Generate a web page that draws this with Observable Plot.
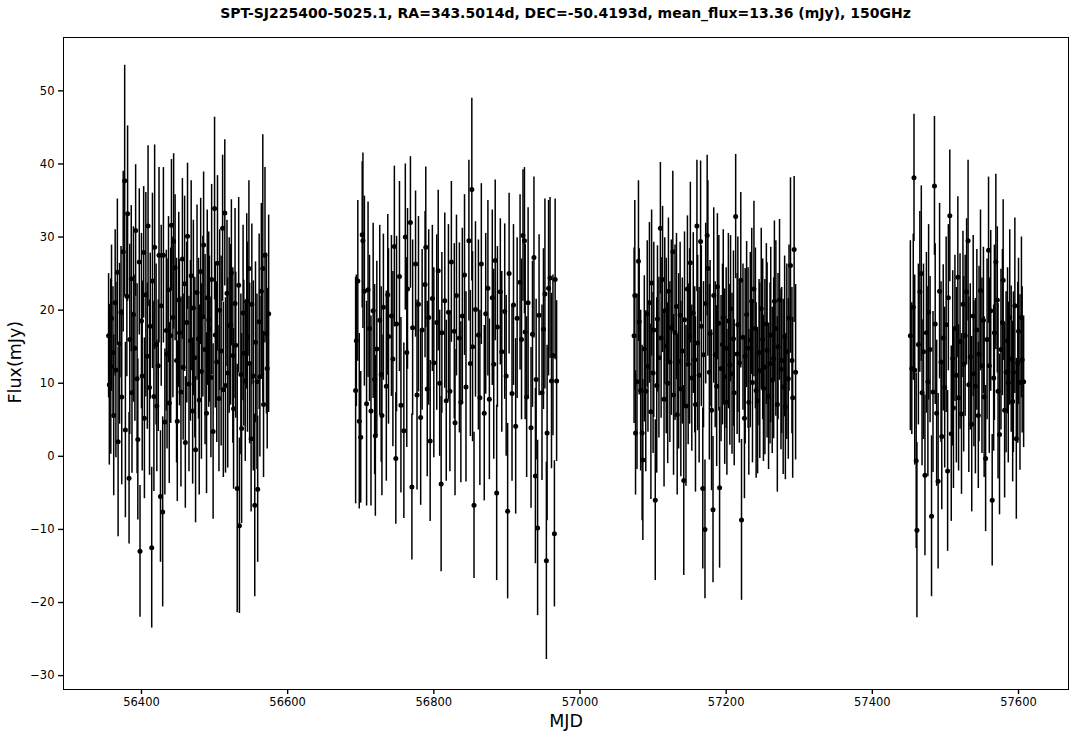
<!DOCTYPE html>
<html><head><meta charset="utf-8">
<script src="https://cdn.jsdelivr.net/npm/d3@7"></script>
<script src="https://cdn.jsdelivr.net/npm/@observablehq/plot@0.6"></script>
<style>
body{margin:0;background:#fff;font-family:"DejaVu Sans",sans-serif;}
#title{height:30px;line-height:27px;margin-left:63px;width:1005px;text-align:center;font-weight:bold;font-size:14px;color:#000;}
</style></head><body>
<div id="title"></div>
<div id="chart"></div>
<script>
const titleText = "SPT-SJ225400-5025.1, RA=343.5014d, DEC=-50.4193d, mean_flux=13.36 (mJy), 150GHz";
const xLabel = "MJD";
const yLabel = "Flux(mJy)";
const xTicks = [56400, 56600, 56800, 57000, 57200, 57400, 57600];
const yTicks = [-30, -20, -10, 0, 10, 20, 30, 40, 50];

// [MJD, flux (mJy), 1-sigma error (mJy)]
const season1 = [
[56355,16.5,8.5],[56356,9.8,11],[56358,12.3,12],[56359,18.9,10],[56361,14.2,9],[56362,5.6,11],[56364,21.0,10],[56365,11.8,12],
[56367,25.2,10],[56368,2.0,13],[56370,15.4,11],[56372,19.7,9],[56373,8.1,12],[56375,28.0,11],[56377,37.7,15.8],[56378,3.6,12],
[56380,21.9,11],[56381,33.2,12],[56383,-3.0,9],[56384,16.0,13],[56386,24.3,10],[56387,8.7,11],[56389,19.4,12],[56391,14.8,10],
[56392,30.9,9],[56394,10.6,13],[56395,2.3,11],[56397,26.6,10],[56398,-13.0,9],[56400,18.5,12],[56401,11.0,13],[56403,27.9,9],
[56404,5.2,11],[56406,22.1,14],[56408,13.7,10],[56409,31.5,11],[56411,9.4,12],[56412,17.8,10],[56414,-12.5,11],[56415,24.0,12],
[56417,8.2,13],[56418,28.6,14],[56420,15.3,11],[56421,6.9,9],[56423,12.4,9],[56424,27.5,12],[56426,-5.5,9],[56427,20.6,11],
[56429,-7.6,13],[56430,27.5,12],[56432,4.7,10],[56434,17.2,11],[56435,14.0,13],[56437,22.8,10],[56438,7.3,11],[56440,16.5,12],
[56441,31.6,9],[56443,19.0,11],[56444,29.4,12],[56446,25.8,10],[56448,13.1,14],[56449,4.8,11],[56451,21.4,12],[56452,16.9,10],
[56454,8.8,13],[56456,27.0,11],[56457,12.2,10],[56459,23.6,12],[56460,1.9,9],[56462,18.3,11],[56463,30.1,10],[56465,9.9,12],
[56467,15.8,11],[56468,24.7,13],[56470,6.2,10],[56471,20.3,12],[56473,13.5,11],[56474,0.9,10],[56476,22.4,12],[56478,16.1,11],
[56479,7.7,13],[56481,25.3,10],[56482,11.6,12],[56484,19.1,11],[56485,28.9,10],[56487,14.6,13],[56489,5.9,11],[56490,21.7,12],
[56492,18.7,12],[56493,17.4,10],[56495,10.8,11],[56496,24.2,13],[56498,3.4,12],[56500,33.9,12.5],[56501,16.6,10],[56503,12.9,11],
[56504,26.4,12],[56506,7.9,10],[56507,20.0,11],[56509,14.4,13],[56511,31.2,10],[56512,9.1,12],[56514,33.3,10],[56515,9.7,12],
[56517,22.3,10],[56518,11.4,13],[56520,17.9,12],[56522,18.0,11],[56523,25.1,10],[56525,13.8,12],[56526,6.5,11],[56528,20.9,13],
[56529,15.2,10],[56531,-4.4,17],[56533,23.4,12],[56534,-9.5,12],[56536,11.2,11],[56537,3.8,13],[56539,19.6,12],[56540,14.1,10],
[56542,10.3,11],[56544,21.2,12],[56545,16.3,13],[56547,25.7,12],[56548,12.7,11],[56550,2.4,10],[56551,20.8,11],[56553,11.0,13],
[56555,-6.7,12.5],[56556,15.6,11],[56558,10.2,12],[56559,-4.5,10],[56561,18.4,12],[56562,10.9,11],[56564,22.6,12],[56566,25.7,18.3],
[56567,7.1,10],[56569,27.5,12],[56571,16.8,11],[56572,12.0,11],[56574,19.5,13.5]
];
const season2 = [
[56693,9.0,15.5],[56694,15.8,9],[56696,24.0,11],[56698,4.8,12],[56700,2.6,9],[56702,30.3,10],[56703,29.5,12],[56705,22.6,13],
[56708,7.2,14],[56710,22.8,12],[56712,17.5,10],[56714,6.2,13],[56717,19.9,12],[56719,10.5,13],
[56720,2.8,11],[56722,14.7,12],[56726,18.6,13],[56728,11.2,12],[56729,5.6,11],[56731,20.4,10],
[56735,9.6,13],[56737,22.1,11],[56738,16.4,12],[56742,19.2,11],[56744,13.3,12],[56746,28.7,11],[56748,-0.3,9],
[56749,18.1,12],[56753,24.6,13],[56755,7.0,12],[56759,3.5,12],[56761,30.0,10],[56763,14.2,13],
[56764,22.9,11],[56768,32.0,9],[56770,-4.2,10],[56771,17.6,12],[56775,26.3,10],[56777,8.4,13],
[56779,20.8,12],[56782,5.3,12],[56784,17.3,11],[56788,23.5,10],[56789,28.6,11],[56791,9.2,12],
[56793,19.0,12],[56795,2.1,11],[56798,21.6,10],[56800,12.8,13],[56804,18.3,12],[56806,25.4,11],
[56808,10.0,10],[56810,-3.8,12],[56811,16.9,11],[56815,21.3,12],[56817,7.6,11],[56820,19.7,12],
[56822,8.9,11],[56824,26.6,11],[56828,17.1,12],[56829,4.6,10],[56831,22.0,11],[56835,16.2,13],
[56837,7.4,11],[56839,19.2,12],[56842,24.8,11],[56844,9.5,13],[56848,29.5,11],[56850,12.7,10],
[56852,36.5,12.5],[56853,15.0,13],[56855,-6.7,10],[56857,20.1,12],[56861,16.6,13],[56863,8.0,12],[56865,26.3,11],
[56869,5.9,12],[56871,19.5,11],[56874,23.0,12],[56876,7.8,11],[56880,21.7,12],
[56882,12.6,13],[56884,26.8,11],[56886,-5.0,12],[56887,17.7,11],[56891,22.5,10],[56893,14.3,11],
[56897,19.8,12],[56899,11.0,11],[56901,-7.5,12],[56903,25.0,11],[56907,8.6,12],[56909,20.7,11],
[56912,4.1,12],[56914,18.9,11],[56918,23.8,12],[56920,16.0,11],[56922,30.2,9],[56924,29.5,10],[56925,17.0,12],
[56927,8.1,11],[56929,21.0,13],[56933,3.9,11],[56935,16.7,10],[56937,27.2,11],[56939,-2.7,12],[56940,10.5,11],
[56942,-9.8,12],[56944,19.3,11],[56948,8.7,12],[56950,17.4,11],[56952,22.2,13],[56954,-14.3,13.5],[56955,3.2,12],
[56957,23.0,12],[56959,24.4,11],[56961,10.3,12],[56963,13.8,11],[56965,-10.6,10],[56966,24.2,11],[56968,10.3,11]
];
const season3 = [
[57074,16.5,12],[57075,22.0,13],[57076,3.2,8.5],[57078,10.2,12],[57080,26.7,11],[57081,18.4,10],[57083,9.0,11],[57085,3.2,12],
[57086,-0.5,11],[57088,14.7,10],[57090,8.9,11],[57092,19.5,10],[57093,12.3,9],[57095,21.0,11],[57097,6.1,12],[57098,23.7,10],
[57100,11.4,11],[57101,17.3,12],[57103,-6.0,11],[57105,9.7,12],[57106,18.8,10],[57108,13.5,11],[57110,31.2,9],[57111,16.2,11],
[57113,24.2,10],[57115,7.8,12],[57116,19.9,10],[57118,15.1,12],[57120,10.0,11],[57121,22.6,10],[57123,12.9,11],[57125,17.6,12],
[57127,28.0,11],[57128,8.4,11],[57130,16.9,12],[57132,20.5,10],[57133,5.7,11],[57135,13.0,12],[57137,19.3,10],[57138,9.2,12],
[57140,14.4,10],[57142,-3.3,13],[57143,18.7,12],[57145,6.9,11],[57147,22.9,10],[57148,12.6,11],[57150,16.4,12],[57151,26.5,11],
[57153,10.7,10],[57155,19.6,11],[57157,13.2,10],[57158,7.1,12],[57160,31.5,9],[57161,15.5,12],[57163,11.1,12],[57165,29.4,11],
[57166,17.8,11],[57168,-4.4,11],[57169,13.9,10],[57171,-10.0,9.5],[57172,20.9,11],[57174,30.2,11],[57175,25.7,12],[57177,11.5,12],
[57178,16.8,10],[57180,6.3,11],[57182,-7.3,10],[57183,22.0,12],[57185,13.9,10],[57187,9.6,11],[57188,23.2,10],[57190,18.2,12],
[57191,-4.3,11],[57193,12.0,10],[57195,15.3,11],[57196,19.0,12],[57198,10.9,12],[57200,14.8,11],[57201,7.4,10],[57203,18.5,12],
[57205,12.5,11],[57206,20.2,10],[57208,11.3,11],[57210,16.1,12],[57211,8.7,10],[57213,32.8,8.5],[57215,14.0,11],[57216,18.0,12],
[57218,12.8,11],[57220,24.1,12],[57221,-8.7,11],[57223,16.3,10],[57225,5.2,11],[57226,13.7,12],[57228,19.4,10],[57230,14.8,11],
[57231,7.4,10],[57233,15.9,12],[57235,21.2,10],[57236,10.1,11],[57238,22.9,12],[57240,17.5,11],[57241,9.0,12],[57243,7.6,10],
[57245,14.2,10],[57246,11.7,12],[57248,20.2,11],[57250,16.0,11],[57251,9.3,10],[57253,12.2,12],[57255,18.1,11],[57256,14.5,12],
[57258,8.2,10],[57260,12.7,11],[57261,16.6,12],[57263,10.4,10],[57265,13.4,11],[57266,21.2,11],[57268,17.5,12],[57270,7.1,12],
[57271,15.0,10],[57273,21.4,11],[57275,11.9,11],[57276,13.1,10],[57278,9.5,12],[57280,16.4,11],[57281,6.8,10],[57283,14.3,12],
[57285,10.6,11],[57286,18.9,10],[57288,26.1,12],[57290,13.1,10],[57291,8.0,11],[57293,28.3,10],[57295,11.5,12]
];
const season4 = [
[57452,16.5,13],[57454,12.0,9],[57456,20.4,10],[57457,38.1,8.7],[57458,11.8,13],[57460,-0.6,12],[57461,-10.1,12],[57463,15.3,11],
[57465,22.5,11],[57467,25.0,12],[57468,8.7,10],[57470,14.3,12],[57472,-2.6,11],[57474,16.9,11],[57476,10.2,13],[57477,19.7,12],
[57479,14.6,10],[57481,-8.2,11],[57483,8.8,11],[57485,37.0,9.5],[57486,18.1,11],[57488,5.9,10],[57490,-3.4,12],[57492,22.6,12],
[57494,12.9,11],[57495,2.7,10],[57497,16.2,10],[57499,9.4,11],[57501,18.0,12],[57503,-2.0,11],[57504,21.7,10],[57506,32.9,9],
[57508,3.1,12],[57510,13.4,12],[57511,6.6,11],[57513,17.5,10],[57515,11.1,12],[57517,24.5,11],[57518,8.0,10],[57520,15.7,12],
[57522,5.8,11],[57524,20.8,10],[57525,12.6,12],[57527,16.5,11],[57529,22.5,10],[57531,29.5,11],[57532,9.8,12],[57534,13.6,10],
[57536,4.4,12],[57538,19.2,11],[57539,11.3,10],[57541,9.6,12],[57543,17.3,11],[57545,5.6,10],[57546,14.0,12],[57548,22.7,11],
[57550,12.4,12],[57552,18.6,10],[57553,8.1,11],[57555,-0.3,10],[57557,16.0,11],[57559,28.2,10],[57560,12.4,12],[57562,19.9,11],
[57564,-6.0,9],[57566,10.7,10],[57567,16.9,12],[57569,26.6,12],[57571,21.4,10],[57572,8.9,12],[57574,3.0,11],[57576,14.6,11],
[57578,18.3,10],[57579,24.1,11],[57581,6.3,12],[57583,11.5,11],[57585,15.8,10],[57586,10.1,11],[57588,19.0,12],[57590,13.3,10],
[57592,7.5,11],[57593,11.5,11],[57595,20.6,12],[57597,2.4,11],[57599,12.8,11],[57600,17.1,10],[57602,10.1,12],[57604,19.0,11],
[57605,13.2,10],[57607,10.2,9]
];

const data = [season1, season2, season3, season4].flat().map(([mjd, flux, err]) => ({mjd, flux, err}));

document.getElementById("title").textContent = titleText;

const plot = Plot.plot({
  width: 1081,
  height: 709,
  marginLeft: 63,
  marginRight: 13,
  marginTop: 7,
  marginBottom: 50,
  style: {fontFamily: "'DejaVu Sans', sans-serif", fontSize: "11px", color: "#000", background: "#fff"},
  x: {domain: [56293.3, 57668.4], nice: false, inset: 0},
  y: {domain: [-31.9, 57.3], nice: false, inset: 0},
  marks: [
    Plot.ruleX(data, {x: "mjd", y1: d => d.flux - d.err, y2: d => d.flux + d.err, stroke: "#000", strokeWidth: 1.5}),
    Plot.dot(data, {x: "mjd", y: "flux", r: 2.5, fill: "#000", stroke: "none"}),
    Plot.frame({stroke: "#000", strokeWidth: 1}),
    Plot.axisX({ticks: xTicks, tickFormat: d => String(d), tickSize: 5, tickPadding: 3, strokeWidth: 1.4, label: null, fontSize: 11.5}),
    Plot.axisY({ticks: yTicks, tickSize: 5, tickPadding: 4, strokeWidth: 1.4, label: null, fontSize: 11.5}),
    Plot.text([xLabel], {frameAnchor: "bottom", dy: 37, fontSize: 17.5, fill: "#000"}),
    Plot.text([yLabel], {frameAnchor: "left", dx: -48, dy: 40, rotate: -90, fontSize: 17.5, fill: "#000"})
  ]
});
document.getElementById("chart").appendChild(plot);
</script>
</body></html>
